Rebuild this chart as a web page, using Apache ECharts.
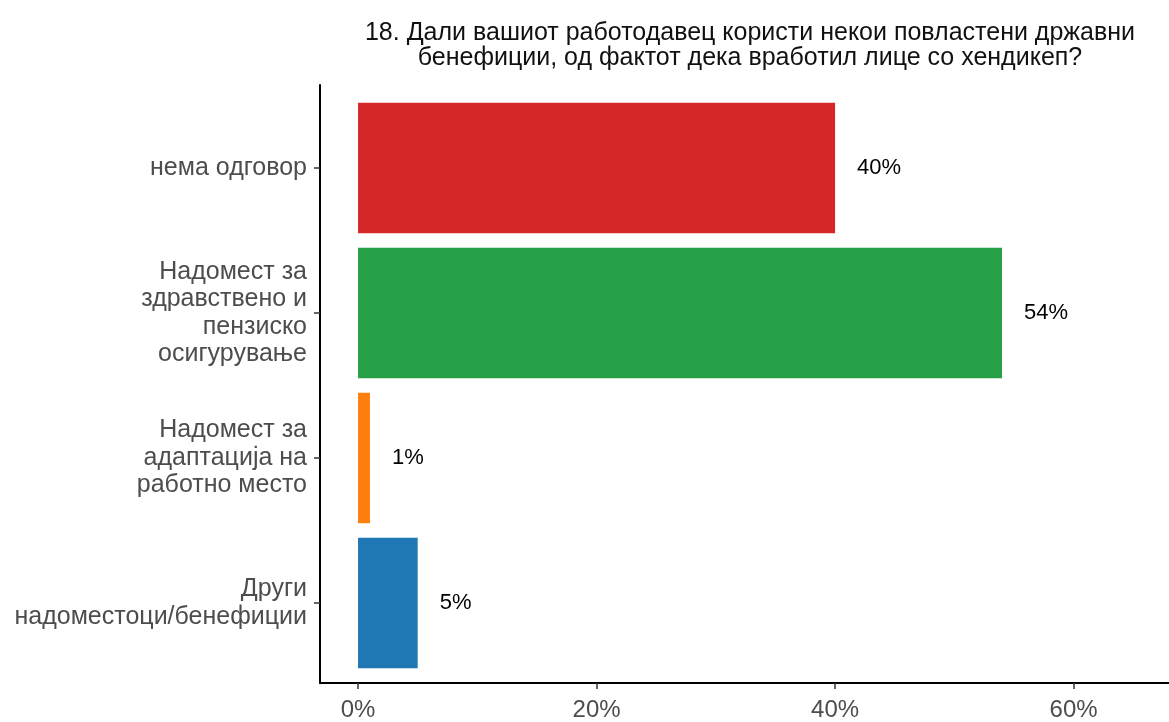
<!DOCTYPE html>
<html>
<head>
<meta charset="utf-8">
<script src="https://cdn.jsdelivr.net/npm/echarts@6/dist/echarts.min.js"></script>
<style>
  html, body { margin: 0; padding: 0; background: #ffffff; }
  #chart { width: 1169px; height: 722px; }
</style>
</head>
<body>
<div id="chart"></div>
<script>
// Survey answers, top to bottom
const categories = [
  'нема одговор',
  'Надомест за\nздравствено и\nпензиско\nосигурување',
  'Надомест за\nадаптација на\nработно место',
  'Други\nнадоместоци/бенефиции'
];
const shares = [40, 54, 1, 5];
const barColors = ['#d62728', '#27a048', '#ff7f0e', '#1f77b4'];
const xTicks = [0, 20, 40, 60];
const titleText = '18. Дали вашиот работодавец користи некои повластени државни\nбенефиции, од фактот дека вработил лице со хендикеп?';

const X_MIN = -3.19, X_MAX = 68.0;
const FONT = '"Liberation Sans", Arial, sans-serif';

const chart = echarts.init(document.getElementById('chart'));
chart.setOption({
  animation: false,
  textStyle: { fontFamily: FONT },
  title: {
    text: titleText,
    left: 745,
    top: 16,
    textAlign: 'center',
    textStyle: { fontSize: 25, fontWeight: 'normal', color: '#111', lineHeight: 25, fontFamily: FONT }
  },
  grid: [
    // frame grid: carries both axis lines and the x scale
    { left: 320, right: 0, top: 85, bottom: 34, containLabel: false },
    // bar grid: category bands inset so the outer padding is 0.6 band
    { left: 320, right: 0, top: 95.5, bottom: 46.5, containLabel: false }
  ],
  xAxis: [
    {
      gridIndex: 0, type: 'value', min: X_MIN, max: X_MAX,
      axisLine: { show: true, onZero: false, lineStyle: { color: '#000', width: 2 } },
      axisTick: { show: true, length: 6, lineStyle: { color: '#333', width: 1.5 }, customValues: xTicks },
      axisLabel: {
        customValues: xTicks, margin: 15, fontSize: 24, color: '#4d4d4d', fontFamily: FONT,
        formatter: v => v + '%'
      },
      splitLine: { show: false }
    },
    {
      gridIndex: 1, type: 'value', min: X_MIN, max: X_MAX, show: false
    }
  ],
  yAxis: [
    {
      gridIndex: 0, type: 'value', min: 0, max: 1,
      axisLine: { show: true, onZero: false, lineStyle: { color: '#000', width: 2 } },
      axisTick: { show: false }, axisLabel: { show: false }, splitLine: { show: false }
    },
    {
      gridIndex: 1, type: 'category', data: categories, inverse: true,
      axisLine: { show: false, onZero: false },
      axisTick: { show: true, alignWithLabel: true, length: 6, lineStyle: { color: '#333', width: 1.5 } },
      axisLabel: { margin: 13, fontSize: 25, color: '#4d4d4d', lineHeight: 27.5, align: 'right', fontFamily: FONT },
      splitLine: { show: false }
    }
  ],
  series: [{
    type: 'bar',
    xAxisIndex: 1,
    yAxisIndex: 1,
    barWidth: '90%',
    data: shares.map((v, i) => ({ value: v, itemStyle: { color: barColors[i] } })),
    label: {
      show: true, position: 'right', distance: 22,
      fontSize: 22, color: '#000', fontFamily: FONT,
      formatter: p => p.value + '%'
    }
  }]
});
</script>
</body>
</html>
